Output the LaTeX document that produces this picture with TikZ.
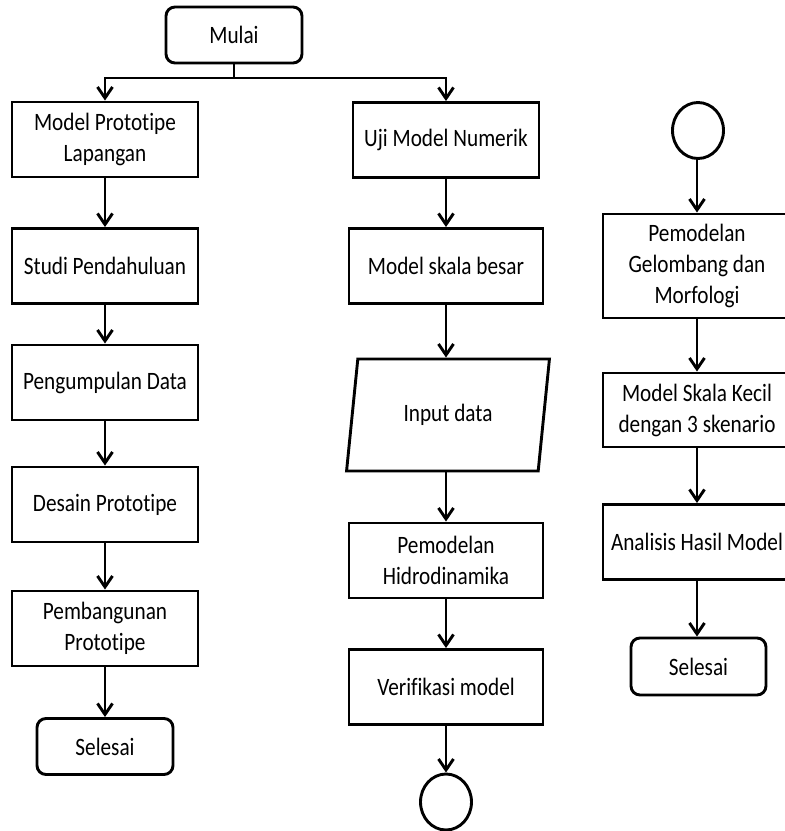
\documentclass[tikz,border=0pt]{standalone}
\usepackage{fontspec}
\setmainfont{Carlito}[FakeStretch=0.85, RawFeature={-liga;-clig;-calt;-dlig}]
\usetikzlibrary{arrows.meta, shapes.geometric}

\begin{document}
\begin{tikzpicture}[x=1pt, y=-1pt,
	font=\fontsize{25}{31}\selectfont,
	proc/.style={draw, line width=2.9pt, minimum width=186, minimum height=75, align=center, inner sep=1pt},
	term/.style={draw, line width=2.9pt, rounded corners=9pt, minimum width=136, minimum height=56, align=center},
	conn/.style={draw, ellipse, line width=2.9pt, minimum width=51, minimum height=56, inner sep=0pt},
	io/.style={draw, trapezium, trapezium left angle=78, trapezium right angle=102, trapezium stretches=true, line width=2.9pt, minimum width=203, minimum height=112, align=center},
	arr/.style={line width=2.9pt, -{Straight Barb[length=11pt, width=15pt, line width=2.9pt]}},
]
\useasboundingbox (0,0) rectangle (785,831);

\node[term] (mulai) at (234,35) {Mulai};
\coordinate (split) at (234,78);

% kolom kiri
\node[proc] (mpl) at (105,139.5) {Model Prototipe\\Lapangan};
\node[proc] (studi) at (105,266) {Studi Pendahuluan};
\node[proc] (kumpul) at (105,382.5) {Pengumpulan Data};
\node[proc] (desain) at (105,504.5) {Desain Prototipe};
\node[proc] (bangun) at (105,628.5) {Pembangunan\\Prototipe};
\node[term] (selesaiA) at (105,746.5) {Selesai};

% kolom tengah
\node[proc] (uji) at (446,140) {Uji Model Numerik};
\node[proc, minimum width=194] (besar) at (446,266) {Model skala besar};
\node[io] (input) at (448,415) {Input data};
\node[proc, minimum width=194] (hidro) at (446,560.5) {Pemodelan\\Hidrodinamika};
\node[proc, minimum width=194] (verif) at (446,687) {Verifikasi model};
\node[conn] (konA) at (446,802) {};

% kolom kanan
\node[conn] (konB) at (698,130.5) {};
\node[proc, minimum width=188, minimum height=104] (gelombang) at (697,266) {Pemodelan\\Gelombang dan\\Morfologi};
\node[proc, minimum width=188, minimum height=74] (kecil) at (697,410) {Model Skala Kecil\\dengan 3 skenario};
\node[proc, minimum width=188] (analisis) at (697,542) {Analisis Hasil Model};
\node[term, minimum width=135, minimum height=57] (selesaiB) at (698.5,666.5) {Selesai};

\draw[line width=2.9pt] (mulai) -- (split);
\draw[arr] (split) -| (mpl.north);
\draw[arr] (split) -| (uji.north);

\draw[arr] (mpl) -- (studi);
\draw[arr] (studi) -- (kumpul);
\draw[arr] (kumpul) -- (desain);
\draw[arr] (desain) -- (bangun);
\draw[arr] (bangun) -- (selesaiA);

\draw[arr] (uji) -- (besar);
\draw[arr] (besar.south -| uji) -- (uji |- input.north);
\draw[arr] (uji |- input.south) -- (uji |- hidro.north);
\draw[arr] (hidro) -- (verif);
\draw[arr] (verif) -- (konA);

\draw[arr] (konB.south -| gelombang) -- (gelombang);
\draw[arr] (gelombang) -- (kecil);
\draw[arr] (kecil) -- (analisis);
\draw[arr] (analisis) -- (analisis |- selesaiB.north);
\end{tikzpicture}
\end{document}
